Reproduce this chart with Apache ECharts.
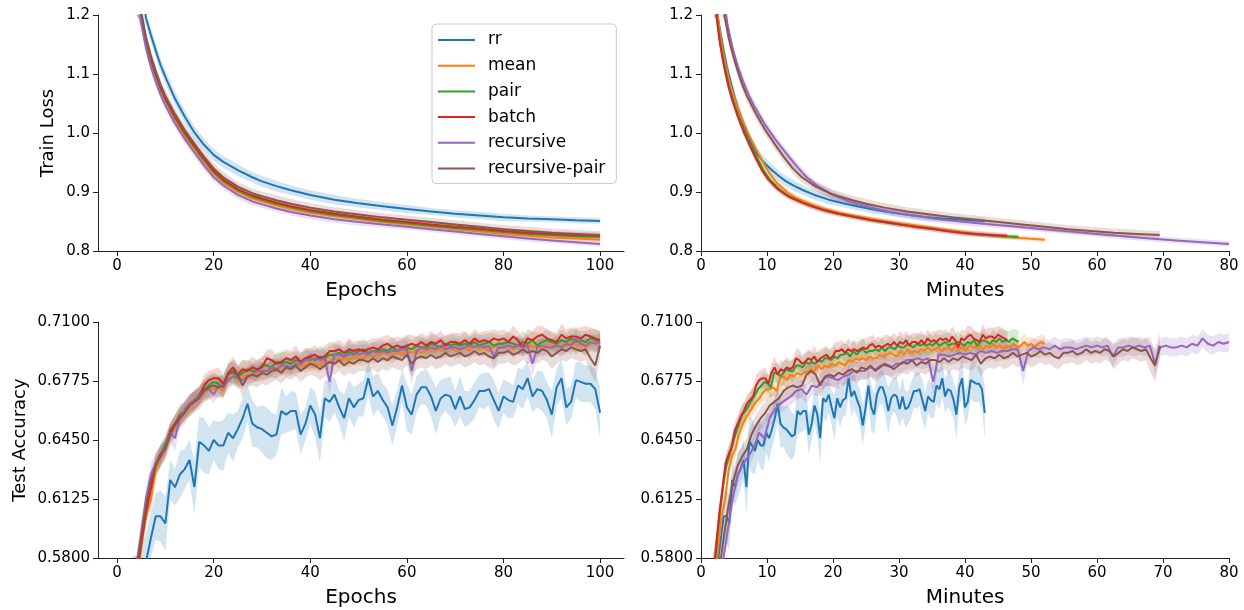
<!DOCTYPE html>
<html><head><meta charset="utf-8">
<script src="https://cdn.jsdelivr.net/npm/echarts@6/dist/echarts.min.js"></script>
<style>html,body{margin:0;padding:0;background:#fff}#c{width:1244px;height:610px}</style>
</head><body><div id="c"></div>
<script>
const FONT = 'DejaVu Sans';
const methods = ['rr','mean','pair','batch','recursive','recursive-pair'];
const colors = ['#1f77b4','#ff7f0e','#2ca02c','#d62728','#9467bd','#8c564b'];
const minutesPerEpoch = [0.430,0.521,0.481,0.464,0.800,0.695];

const xTicksEpochs = [0,20,40,60,80,100];

// ---- Train loss (sampled epochs) ----
const lossEpochs = [1,2,3,4,5,6,7,8,9,10,12,14,16,18,20,22,25,28,30,33,36,40,45,50,55,60,65,70,75,80,85,90,95,100];
const lossRR    = [1.85,1.60,1.44,1.33,1.25,1.195,1.166,1.140,1.115,1.095,1.058,1.028,1.001,0.980,0.963,0.951,0.937,0.925,0.918,0.910,0.903,0.895,0.887,0.881,0.876,0.871,0.867,0.863,0.860,0.857,0.855,0.854,0.852,0.851];
const lossMean  = [1.79,1.51,1.355,1.258,1.193,1.151,1.120,1.095,1.073,1.054,1.023,0.996,0.973,0.951,0.931,0.916,0.900,0.889,0.884,0.877,0.871,0.865,0.859,0.854,0.849,0.845,0.841,0.837,0.833,0.829,0.826,0.823,0.821,0.819];
const lossPair  = [1.80,1.52,1.36,1.262,1.197,1.155,1.124,1.099,1.076,1.057,1.026,0.999,0.976,0.954,0.934,0.919,0.903,0.892,0.887,0.880,0.874,0.8675,0.861,0.856,0.851,0.847,0.843,0.839,0.836,0.832,0.829,0.827,0.825,0.824];
const lossBatch = [1.80,1.52,1.36,1.265,1.200,1.158,1.127,1.101,1.078,1.059,1.028,1.001,0.978,0.956,0.936,0.921,0.905,0.894,0.889,0.882,0.876,0.8695,0.863,0.858,0.853,0.849,0.845,0.841,0.838,0.834,0.831,0.829,0.827,0.826];
const lossRec   = [1.78,1.50,1.345,1.250,1.185,1.143,1.112,1.087,1.065,1.047,1.016,0.990,0.967,0.945,0.925,0.911,0.895,0.884,0.879,0.872,0.866,0.860,0.854,0.849,0.845,0.841,0.837,0.833,0.829,0.825,0.821,0.818,0.815,0.812];
const lossRP    = [1.80,1.53,1.37,1.27,1.205,1.162,1.131,1.105,1.082,1.063,1.032,1.005,0.982,0.960,0.940,0.925,0.909,0.898,0.893,0.886,0.880,0.8735,0.867,0.862,0.857,0.853,0.849,0.845,0.841,0.837,0.834,0.831,0.829,0.827];
// band half-widths in thousandths
const lossBandRR    = [14,14,14,14,13,13,13,12,12,12,12,11,11,11,10,10,10,9,9,9,8,8,8,7,7,7,6,6,6,6,5,5,5,5];
const lossBandMean  = [9,9,8,8,8,7,7,7,7,7,6,6,6,6,6,5,5,5,5,5,5,4,4,4,4,4,4,4,4,4,4,4,4,4];
const lossBandPair  = [9,9,9,8,8,8,7,7,7,7,6,6,6,6,6,6,5,5,5,5,5,5,4,4,4,4,4,4,4,4,4,4,4,4];
const lossBandBatch = [10,10,9,9,9,8,8,8,8,7,7,7,7,6,6,6,6,5,5,5,5,5,5,5,5,5,5,5,5,5,5,5,5,5];
const lossBandRec   = [11,11,10,10,10,9,9,9,9,9,8,8,8,8,7,7,7,7,6,6,6,6,6,6,5,5,5,5,5,5,5,5,5,5];
const lossBandRP    = [12,12,12,11,11,11,10,10,10,10,10,9,9,9,9,9,8,8,8,8,8,8,7,7,7,7,7,7,7,7,7,7,7,7];

// ---- Test accuracy (every epoch 1..100) ----
const accRR = [0.520,0.540,0.555,0.566,0.573,0.578,0.591,0.603,0.603,0.599,
0.623,0.619,0.626,0.629,0.634,0.619,0.644,0.642,0.639,0.645,
0.642,0.642,0.649,0.646,0.651,0.657,0.665,0.654,0.652,0.651,
0.649,0.647,0.648,0.661,0.659,0.661,0.661,0.648,0.654,0.664,
0.659,0.646,0.668,0.666,0.670,0.663,0.657,0.668,0.663,0.667,
0.668,0.679,0.669,0.672,0.667,0.663,0.653,0.663,0.675,0.663,
0.659,0.670,0.674,0.674,0.669,0.661,0.668,0.670,0.669,0.662,
0.669,0.662,0.663,0.667,0.672,0.672,0.673,0.667,0.661,0.669,
0.667,0.666,0.675,0.673,0.679,0.669,0.673,0.672,0.667,0.659,
0.674,0.679,0.663,0.666,0.678,0.677,0.676,0.676,0.673,0.660];
const accMean = [0.474,0.508,0.540,0.565,0.586,0.603,0.612,0.628,0.636,0.640,
0.648,0.653,0.657,0.660,0.663,0.666,0.668,0.671,0.673,0.673,
0.674,0.672,0.679,0.680,0.678,0.681,0.680,0.682,0.681,0.682,
0.683,0.684,0.683,0.686,0.684,0.686,0.685,0.687,0.686,0.688,
0.687,0.686,0.689,0.688,0.690,0.689,0.690,0.689,0.691,0.690,
0.690,0.692,0.691,0.692,0.693,0.692,0.691,0.694,0.692,0.695,
0.693,0.694,0.693,0.695,0.694,0.696,0.694,0.695,0.696,0.694,
0.695,0.696,0.694,0.697,0.695,0.696,0.694,0.697,0.696,0.696,
0.697,0.695,0.697,0.696,0.698,0.696,0.697,0.695,0.697,0.696,
0.698,0.696,0.697,0.699,0.697,0.698,0.696,0.698,0.699,0.698];
const accPair = [0.480,0.514,0.545,0.570,0.589,0.606,0.620,0.631,0.637,0.643,
0.649,0.654,0.659,0.661,0.664,0.667,0.670,0.673,0.675,0.677,
0.676,0.674,0.682,0.682,0.680,0.682,0.684,0.683,0.683,0.686,
0.686,0.685,0.688,0.687,0.688,0.687,0.689,0.688,0.690,0.690,
0.689,0.691,0.690,0.692,0.692,0.693,0.691,0.694,0.692,0.694,
0.695,0.693,0.694,0.694,0.695,0.694,0.696,0.694,0.696,0.696,
0.695,0.697,0.696,0.696,0.698,0.697,0.696,0.698,0.697,0.698,
0.697,0.698,0.697,0.699,0.697,0.698,0.699,0.697,0.698,0.698,
0.699,0.698,0.697,0.699,0.698,0.700,0.697,0.699,0.700,0.699,
0.698,0.700,0.699,0.701,0.699,0.700,0.699,0.701,0.700,0.699];
const accBatch = [0.478,0.512,0.543,0.568,0.588,0.605,0.618,0.632,0.637,0.641,
0.650,0.654,0.658,0.661,0.665,0.667,0.669,0.675,0.678,0.679,
0.679,0.676,0.682,0.685,0.681,0.684,0.683,0.685,0.684,0.685,
0.690,0.689,0.687,0.688,0.690,0.689,0.691,0.688,0.690,0.691,
0.692,0.690,0.691,0.694,0.694,0.695,0.693,0.695,0.694,0.695,
0.694,0.695,0.696,0.695,0.697,0.698,0.696,0.697,0.696,0.697,
0.698,0.697,0.699,0.697,0.699,0.698,0.700,0.697,0.699,0.699,
0.698,0.700,0.698,0.701,0.699,0.700,0.699,0.701,0.700,0.701,
0.699,0.702,0.700,0.696,0.701,0.700,0.702,0.703,0.701,0.700,
0.699,0.703,0.701,0.702,0.702,0.701,0.703,0.702,0.701,0.700];
const accRec = [0.486,0.520,0.551,0.575,0.594,0.613,0.626,0.632,0.636,0.641,
0.649,0.646,0.657,0.662,0.665,0.667,0.669,0.672,0.673,0.670,
0.675,0.674,0.678,0.680,0.679,0.678,0.680,0.681,0.683,0.683,
0.683,0.685,0.684,0.686,0.686,0.685,0.687,0.687,0.689,0.689,
0.690,0.689,0.690,0.677,0.692,0.692,0.691,0.692,0.693,0.692,
0.693,0.692,0.694,0.693,0.694,0.693,0.694,0.694,0.695,0.695,
0.683,0.694,0.696,0.695,0.696,0.695,0.697,0.695,0.696,0.696,
0.695,0.696,0.697,0.696,0.697,0.696,0.697,0.691,0.696,0.696,
0.697,0.696,0.697,0.696,0.697,0.687,0.696,0.697,0.696,0.696,
0.697,0.696,0.698,0.697,0.701,0.698,0.697,0.699,0.698,0.699];
const accRP = [0.484,0.518,0.549,0.573,0.592,0.609,0.622,0.631,0.636,0.640,
0.648,0.653,0.657,0.660,0.664,0.666,0.668,0.672,0.674,0.675,
0.674,0.675,0.681,0.683,0.681,0.675,0.680,0.681,0.680,0.682,
0.681,0.683,0.684,0.682,0.685,0.684,0.686,0.683,0.685,0.687,
0.686,0.684,0.686,0.688,0.687,0.689,0.686,0.688,0.687,0.689,
0.689,0.688,0.690,0.688,0.690,0.689,0.691,0.690,0.689,0.692,
0.687,0.690,0.691,0.690,0.692,0.690,0.691,0.693,0.691,0.692,
0.693,0.691,0.692,0.694,0.692,0.693,0.691,0.690,0.693,0.693,
0.694,0.692,0.693,0.695,0.693,0.694,0.693,0.695,0.694,0.691,
0.693,0.695,0.694,0.696,0.695,0.694,0.695,0.690,0.686,0.697];
// accuracy band half-widths in thousandths
const accBandRR = [15,15,15,15,15,15,14,13,14,15, 11,10,13,11,11,15,14,15,13,11, 13,14,11,13,10,11,10,13,11,13, 14,13,11,13,10,11,10,11,9,10,
 13,14,10,11,10,9,13,10,11,9, 10,9,11,10,9,10,11,10,9,13, 11,10,9,10,11,13,10,9,11,10, 11,10,9,10,9,10,9,11,10,9, 10,9,10,11,10,9,10,11,10,13, 10,11,10,9,10,11,10,10,11,14];
const accBandMean = [6,6,6,6,7,5,6,5,5,5, 5,4,5,4,5,5,4,5,6,4, 5,4,5,4,5,5,4,5,4,5, 4,5,4,4,5,4,5,4,4,5, 4,4,5,4,4,5,4,4,5,4,
 4,5,4,4,5,4,4,5,4,4, 5,4,4,5,4,4,5,4,4,5, 4,4,5,4,4,5,4,4,5,4, 4,5,4,4,5,4,4,5,4,4, 5,4,4,5,4,4,5,4,4,5];
const accBandPair = [6,6,6,6,6,6,5,5,6,5, 5,5,6,5,5,6,5,5,6,5, 5,6,5,6,5,7,5,5,6,5, 6,5,5,7,5,6,5,5,6,5, 5,6,5,5,6,5,5,6,5,5,
 6,5,5,6,5,5,6,5,5,6, 5,5,6,5,5,6,5,5,6,5, 5,6,5,5,6,5,5,7,5,5, 6,5,5,6,5,5,7,5,6,5, 5,6,5,5,7,5,6,5,6,6];
const accBandBatch = [6,6,6,6,6,5,5,5,5,5, 5,5,5,5,5,5,5,6,5,5, 6,5,5,6,5,5,5,6,5,5, 5,6,5,5,5,5,6,5,5,5, 5,5,6,5,5,5,5,6,5,5,
 5,5,5,6,5,5,5,5,5,6, 5,5,5,5,6,5,5,5,5,5, 6,5,5,5,5,5,6,5,5,5, 5,6,5,5,5,5,6,5,5,5, 5,6,5,5,5,6,5,5,5,5];
const accBandRec = [7,7,7,7,7,6,6,6,6,5, 5,7,5,5,5,5,5,5,5,5, 5,5,5,5,5,5,5,5,5,5, 5,5,5,5,5,5,5,5,5,5, 5,5,5,8,5,5,5,5,5,5,
 5,5,5,5,5,5,5,5,5,5, 8,5,5,5,5,5,5,5,5,5, 5,5,5,5,5,5,5,6,5,5, 5,5,5,5,5,7,5,5,5,5, 5,5,5,5,5,5,5,5,5,5];
const accBandRP = [7,7,7,7,7,6,6,6,6,6, 6,6,6,6,6,6,6,6,6,6, 6,6,6,6,6,7,6,6,6,6, 6,6,6,6,6,6,6,6,6,6, 6,6,6,6,6,6,6,6,6,6,
 6,6,6,6,6,6,6,6,6,6, 7,6,6,6,6,6,6,6,6,6, 6,6,6,6,6,6,6,6,6,6, 6,6,6,6,6,6,6,6,6,7, 6,6,6,6,6,6,6,8,9,7];

const lossData = [lossRR,lossMean,lossPair,lossBatch,lossRec,lossRP];
const lossBands = [lossBandRR,lossBandMean,lossBandPair,lossBandBatch,lossBandRec,lossBandRP];
const accData = [accRR,accMean,accPair,accBatch,accRec,accRP];
const accBands = [accBandRR,accBandMean,accBandPair,accBandBatch,accBandRec,accBandRP];
const accEpochs = accRR.map((_, i) => i + 1);

function rgba(hex, a) {
  const n = parseInt(hex.slice(1), 16);
  return 'rgba(' + ((n >> 16) & 255) + ',' + ((n >> 8) & 255) + ',' + (n & 255) + ',' + a + ')';
}

const series = [];
function addPanel(g, epochList, ys, bands, m, useMinutes) {
  const xs = epochList.map(e => useMinutes ? e * minutesPerEpoch[m] : e);
  const col = colors[m];
  series.push({type:'line', name: methods[m], xAxisIndex:g, yAxisIndex:g, symbol:'none', showSymbol:false,
    data: xs.map((x,i)=>[x, ys[i]]), lineStyle:{color:col, width:2}, itemStyle:{color:col}, clip:true, silent:true});
  series.push({type:'custom', name: methods[m] + ' band', xAxisIndex:g, yAxisIndex:g, silent:true,
    data: [[xs[xs.length-1], ys[ys.length-1]]],
    renderItem: function (params, api) {
      const cs = params.coordSys;
      const up = [], lo = [];
      for (let i = 0; i < xs.length; i++) {
        up.push(api.coord([xs[i], ys[i] + bands[i] / 1000]));
        lo.push(api.coord([xs[i], ys[i] - bands[i] / 1000]));
      }
      const pts = up.concat(lo.reverse());
      const clipped = echarts.graphic.clipPointsByRect(pts, {x:cs.x, y:cs.y, width:cs.width, height:cs.height});
      return {type:'polygon', shape:{points: clipped}, style:{fill: rgba(col, 0.2), stroke: null}};
    }});
}
for (let m = 0; m < methods.length; m++) {
  addPanel(0, lossEpochs, lossData[m], lossBands[m], m, false);
  addPanel(1, lossEpochs, lossData[m], lossBands[m], m, true);
  addPanel(2, accEpochs, accData[m], accBands[m], m, false);
  addPanel(3, accEpochs, accData[m], accBands[m], m, true);
}

const axisLineStyle = {color:'#222', width:1};
function xAxis(g, left, name) {
  const ax = {gridIndex:g, type:'value', name, nameLocation:'middle', nameGap:30,
    nameTextStyle:{fontSize:20, color:'#000', fontFamily:FONT},
    axisLine:{show:true, onZero:false, lineStyle:axisLineStyle},
    axisTick:{show:true, length:5, lineStyle:axisLineStyle},
    axisLabel:{fontSize:15, color:'#000', fontFamily:FONT, margin:8},
    splitLine:{show:false}};
  if (left) {
    ax.min = -3.95; ax.max = 104.95;
    ax.axisTick.customValues = xTicksEpochs;
    ax.axisLabel.customValues = xTicksEpochs;
  } else {
    ax.min = 0; ax.max = 80; ax.interval = 10;
  }
  return ax;
}
function yAxis(g, loss, name) {
  return {gridIndex:g, type:'value', name: name || '', nameLocation:'middle', nameGap: loss ? 41 : 69,
    nameTextStyle:{fontSize:18, color:'#000', fontFamily:FONT},
    min: loss ? 0.8 : 0.58, max: loss ? 1.2 : 0.71, interval: loss ? 0.1 : 0.0325,
    axisLine:{show:true, onZero:false, lineStyle:axisLineStyle},
    axisTick:{show:true, length:5, lineStyle:axisLineStyle},
    axisLabel:{fontSize:15, color:'#000', fontFamily:FONT, margin:8,
      formatter: v => loss ? v.toFixed(1) : v.toFixed(4)},
    splitLine:{show:false}};
}

const option = {
  animation:false,
  backgroundColor:'#fff',
  textStyle:{fontFamily:FONT},
  grid:[
    {left:98, top:15, width:526, height:236},
    {left:701, top:15, width:528, height:236},
    {left:98, top:322, width:526, height:236},
    {left:701, top:322, width:528, height:236}
  ],
  xAxis:[xAxis(0,true,'Epochs'), xAxis(1,false,'Minutes'), xAxis(2,true,'Epochs'), xAxis(3,false,'Minutes')],
  yAxis:[yAxis(0,true,'Train Loss'), yAxis(1,true,''), yAxis(2,false,'Test Accuracy'), yAxis(3,false,'')],
  legend:{data:methods, orient:'vertical', left:432, top:24, icon:'rect', itemWidth:37, itemHeight:2, itemGap:8.7,
    padding:[7.5,11,6.5,6], backgroundColor:'rgba(255,255,255,0.8)', borderColor:'#cccccc', borderWidth:1, borderRadius:4,
    selectedMode:false, textStyle:{fontSize:17, color:'#000', fontFamily:FONT, padding:[0,0,0,8]}},
  series
};
const chart = echarts.init(document.getElementById('c'));
chart.setOption(option);
</script>
</body></html>
